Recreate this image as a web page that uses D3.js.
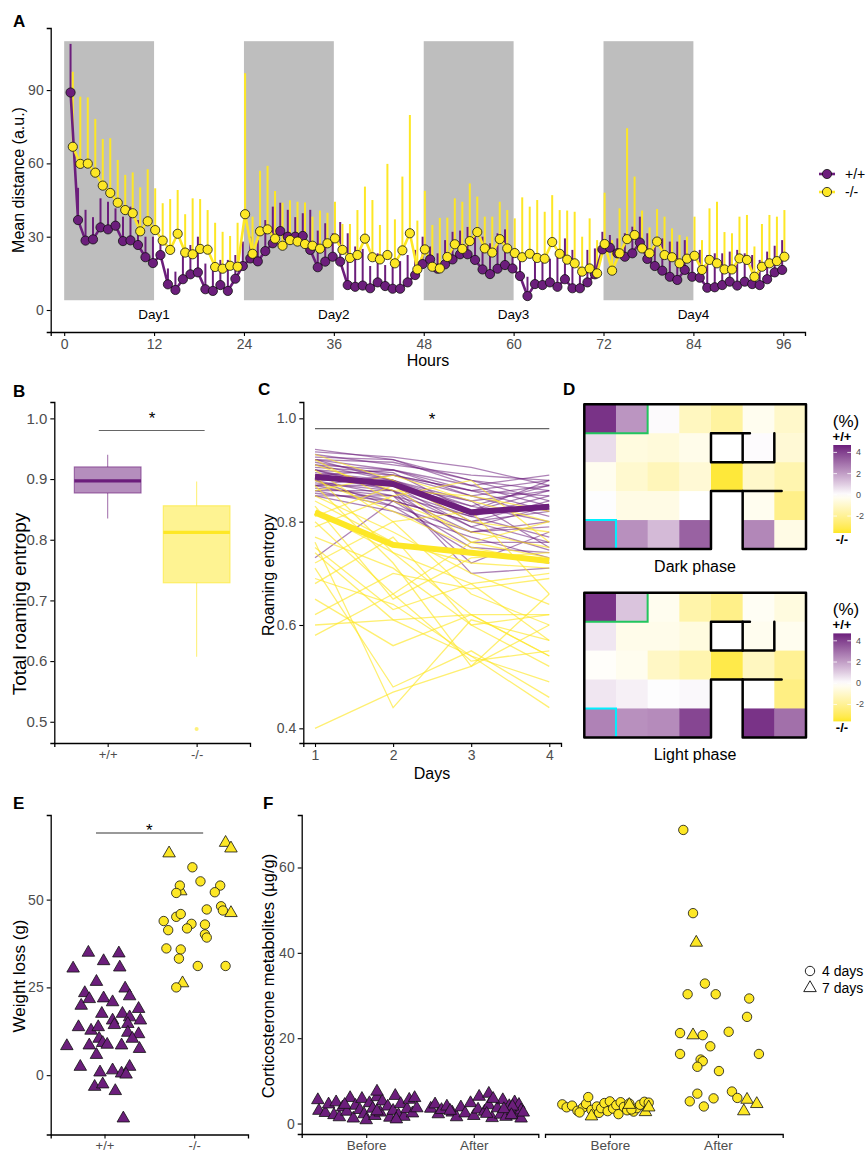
<!DOCTYPE html>
<html>
<head>
<meta charset="utf-8">
<script src="https://cdn.jsdelivr.net/npm/d3@7"></script>
<style>
  body { margin: 0; background: #fff; }
</style>
</head>
<body>
<svg id="fig" width="868" height="1154"></svg>
<script>
const FONT = "'Liberation Sans', Arial, sans-serif";
const PURPLE = "#6c1e7c", YELLOW = "#fde725";

// ---- A: mean distance per hour
const hours = d3.range(1, 97);
const darkStarts = [0, 24, 48, 72];
const dayLabels = ["Day1", "Day2", "Day3", "Day4"];
const wtDist = [89,36.8,28.4,28.9,33.8,33,34.5,28.2,28.5,26.6,21.6,19.2,22.5,10.5,8.2,12.6,14.6,15.4,8.5,7.8,10.2,7.8,12.8,18,
  21.1,19.9,24.1,27.3,32.3,30,30,30.3,24.6,17.5,19.8,21.8,19.8,10.2,9.5,10,8.9,11.3,9.8,8.7,8.7,11.3,14.3,18.8,
  20.7,16.9,18.7,20.7,22.8,22.8,20.5,16.6,14.7,16.9,18.4,17,13.9,5.7,10.6,10.2,11.3,9.5,12.6,8.9,8.9,11.3,14.6,24.8,
  25.5,23.2,21.8,23.2,27.6,20.9,18,16.1,13.6,12.3,16.4,13.6,13.2,9.1,9.3,10.2,11.6,10,11.6,10.6,10.2,12.6,15.4,16.4];
const wtTop = [108.9,50,41,38,45.7,44.3,41.6,38.2,42.3,36.8,30,30,28,17,15.7,23.2,26.6,30,19,18.4,20.5,20.5,22.5,28,
  30,28.6,36.8,42.3,43.9,41,38,39.6,41,32.5,35.5,31.4,36,31.4,26,25,18,23.2,18.4,20.7,20,22.5,24.6,30,
  26,23.2,28.6,32,32.5,34,31.4,30,27.3,31.4,33,23.9,23.2,13.6,23.2,20.5,21,23.2,29.3,24.6,17.7,24.6,25.2,32,
  30.7,29.3,31.4,34.1,38.2,31.4,25.9,29.3,28,28,28.6,23.2,24.6,22.5,23.2,23.2,23.9,24.6,23.2,22.5,20.5,23.9,26.3,28.6];
const koDist = [66.8,59.8,59.9,56.2,50.9,47.9,43.9,40.9,39.6,32.2,36.3,32.7,28.4,24.6,31.2,23.5,22.8,25,24.7,17.6,16.9,18.1,17.7,39.2,
  23,32.2,33,29.2,26.3,28.6,28,27,26.3,25.1,27.3,29.3,24.6,21.3,22.5,29.2,21.6,20.7,22.5,19.1,24.4,31.4,16.6,24.8,
  17.7,17,21.7,26.9,25,28.2,31.9,25.2,23.5,29,25.2,23.3,21.6,23,21.3,21,27.8,23,20.6,19.1,15.7,17,15,27,
  16.1,23.2,29,30.7,25.2,23.2,28,22.5,21.6,19.1,21,22.2,16.4,20.5,19.1,16.6,16.6,21.1,20.5,13.6,17.7,19.1,20,21.8];
const koTop = [97.5,87.3,87,78.2,70,70.3,61.4,55.3,56.3,50.2,57.6,49.8,43.7,45.4,49.1,39.2,45.7,45.4,40.9,35.7,32,30.3,35.7,96.9,
  38.2,57,59,48.7,43.9,44.9,44.3,44,38.2,40.7,39.8,44.3,35.2,35.2,40.9,50.5,45,34.8,59.8,37.1,54.6,79.8,36.6,48.8,
  34.8,37.7,37.8,45.7,44.3,51.8,46.4,38.2,38.2,44.3,40.9,37.5,46.1,42.3,45,40.2,47,40.9,40.7,40.2,30,37.5,28.6,48,
  28.6,41.6,74.4,54.6,40.7,33.8,41.3,38.2,33.4,30.7,30,38.2,28.6,41.6,44.3,31.9,31.4,38.2,38.9,26,35.2,38.9,38.2,40.9];
const genotypes = ["+/+", "-/-"];

// ---- B: total roaming entropy box stats [min, q1, median, q3, max]
const roamBox = [[0.835, 0.877, 0.897, 0.92, 0.94], [0.607, 0.729, 0.812, 0.856, 0.896]];
const roamOutliers = [[], [0.488]];

// ---- C: roaming entropy per day
const days = [1, 2, 3, 4];
const wtMean = [0.887, 0.873, 0.818, 0.829];
const koMean = [0.818, 0.755, 0.74, 0.724];
const wtLines = [
  [0.94,0.92,0.88,0.86],[0.935,0.925,0.905,0.87],[0.93,0.91,0.89,0.88],[0.925,0.92,0.87,0.89],
  [0.92,0.90,0.86,0.85],[0.92,0.915,0.88,0.84],[0.915,0.89,0.85,0.87],[0.91,0.90,0.87,0.83],
  [0.91,0.88,0.84,0.86],[0.905,0.895,0.82,0.88],[0.90,0.87,0.83,0.80],[0.90,0.89,0.86,0.82],
  [0.895,0.88,0.80,0.84],[0.89,0.86,0.81,0.85],[0.89,0.90,0.85,0.81],[0.885,0.87,0.79,0.83],
  [0.88,0.85,0.78,0.79],[0.88,0.88,0.82,0.86],[0.875,0.86,0.76,0.76],[0.87,0.84,0.80,0.82],
  [0.87,0.87,0.84,0.75],[0.865,0.85,0.72,0.78],[0.86,0.83,0.78,0.80],[0.86,0.86,0.70,0.71],
  [0.855,0.84,0.75,0.74],[0.85,0.82,0.77,0.73],[0.85,0.85,0.81,0.77],[0.88,0.83,0.74,0.72],
  [0.90,0.86,0.79,0.745],[0.73,0.84,0.80,0.76],[0.92,0.88,0.83,0.87],[0.87,0.89,0.86,0.88]];
const koLines = [
  [0.40,0.47,0.52,0.60],[0.58,0.66,0.76,0.80],[0.60,0.61,0.62,0.62],[0.65,0.56,0.62,0.54],
  [0.69,0.64,0.54,0.44],[0.71,0.48,0.55,0.46],[0.74,0.61,0.54,0.49],[0.76,0.44,0.61,0.57],
  [0.77,0.71,0.60,0.52],[0.80,0.66,0.53,0.55],[0.82,0.74,0.68,0.70],[0.85,0.78,0.70,0.64],
  [0.87,0.72,0.52,0.66],[0.88,0.82,0.75,0.72],[0.90,0.80,0.66,0.60],[0.92,0.84,0.78,0.75],
  [0.93,0.88,0.80,0.78],[0.91,0.86,0.85,0.82],[0.86,0.89,0.84,0.80],[0.84,0.76,0.72,0.71],
  [0.79,0.85,0.88,0.76],[0.83,0.65,0.73,0.74],[0.75,0.63,0.68,0.57],[0.68,0.77,0.60,0.62],
  [0.62,0.70,0.67,0.69],[0.89,0.74,0.62,0.54],[0.81,0.87,0.76,0.73],[0.72,0.80,0.82,0.66]];

// ---- D: occupancy difference (%) per cage cell, null = outside arena
const darkPhase = [
  [4.3, 2.2, 0.1, -1.2, -1.8, -0.3, -1.0],
  [0.7, -0.6, -0.7, -0.4, 0, 0.08, -0.8],
  [-0.3, -0.9, -1.3, -0.8, -3.4, -1.0, -1.5],
  [0.05, -0.5, -0.5, 0, null, -0.3, -2.2],
  [3.0, 2.3, 1.4, 3.3, null, 2.5, -0.5]];
const lightPhase = [
  [4.3, 1.2, -0.3, -1.6, -2.2, -0.2, -0.6],
  [0.5, -0.4, -0.4, -0.6, 0, -0.3, -0.3],
  [-0.1, -0.3, -1.1, -1.5, -3.2, -1.2, -2.0],
  [0.5, 0.3, 0.05, 0.15, null, 0, -2.3],
  [2.6, 2.3, 2.4, 3.9, null, 4.3, 3.0]];
const barTicks = [4, 2, 0, -2];

// ---- E: weight loss [value, jitter] (+ shape for -/-)
const lossWT = [[34.9,-0.18],[34.7,0.16],[30.4,-0.35],[32.5,-0.01],[30.7,0.17],[26.6,-0.09],[23.4,-0.22],[24.7,0.23],
  [19.8,-0.26],[21.7,-0.17],[21.9,-0.01],[20.8,0.09],[22.5,0.28],[18.9,0.38],[17.5,-0.03],[17.5,0.2],[16.5,0.28],
  [13.7,-0.29],[12.7,-0.15],[13.7,-0.07],[15.6,0.09],[14.3,0.11],[14.6,0.26],[15.6,0.4],[12.1,0.26],[11.7,0.38],
  [10.4,-0.06],[9.2,-0.02],[8.7,0.03],[10.4,0.31],[8.3,-0.42],[8.5,-0.17],[8.5,0.19],[7.5,0.39],[5.8,-0.09],
  [2.4,-0.27],[0.8,-0.05],[1.4,0.09],[0.5,0.19],[2.4,0.28],[0.2,0.24],[-3.3,-0.11],[-2.6,-0.02],[-4.5,0.12],[-12.3,0.21]];
const lossKO = [[63.2,-0.28,"t"],[66.2,0.35,"t"],[64.6,0.41,"t"],[46.2,0.41,"t"],[26.2,-0.13,"t"],[52.4,-0.15,"t"],
  [59.2,-0.02,"c"],[55.2,0.07,"c"],[54,0.29,"c"],[54,-0.16,"c"],[51.9,-0.2,"c"],[52.1,0.23,"c"],[48.1,0.3,"c"],
  [47.2,0.14,"c"],[46.9,0.32,"c"],[43.9,-0.34,"c"],[45.1,-0.2,"c"],[45.9,-0.15,"c"],[41.3,-0.29,"c"],[43.1,-0.03,"c"],
  [41.8,-0.08,"c"],[42.9,0.12,"c"],[40.1,0.12,"c"],[39.2,0.14,"c"],[36.1,-0.31,"c"],[35.8,-0.15,"c"],[33.2,-0.17,"c"],
  [31.1,0.04,"c"],[31.1,0.35,"c"],[25,-0.2,"c"]];

// ---- F: corticosterone metabolites [value, jitter] (+ shape for -/-)
const phases = ["Before", "After"];
const cortWTBefore = [[5.5,-0.45],[3,-0.44],[2.5,-0.38],[4.5,-0.35],[2,-0.3],[5,-0.28],[1.5,-0.25],[3.8,-0.22],[2.8,-0.18],
  [6,-0.15],[1.2,-0.12],[4.2,-0.1],[3.2,-0.06],[5.8,-0.04],[2.2,-0.02],[0.8,0],[4.8,0.03],[3.5,0.06],[1.8,0.08],[6.2,0.1],
  [2.6,0.13],[5.2,0.15],[7.5,0.1],[4,0.2],[1.4,0.22],[3,0.25],[6.5,0.27],[2,0.3],[4.6,0.32],[1.6,0.35],[3.4,0.38],
  [5.6,0.4],[2.4,0.43],[6,0.45],[3.6,0.47],[1,0.28],[4.4,-0.2],[2.9,0.1]];
const cortWTAfter = [[3.5,-0.4],[4.5,-0.36],[2.2,-0.33],[3.2,-0.3],[4,-0.25],[2.6,-0.2],[1.5,-0.16],[3.8,-0.12],[2.4,-0.08],
  [4.8,-0.03],[1.8,0],[3.3,0.04],[6.3,0.05],[2.8,0.1],[4.3,0.14],[1.3,0.17],[7,0.14],[3.6,0.22],[2.1,0.25],[5.5,0.27],
  [1.6,0.3],[4.1,0.33],[2.9,0.36],[5,0.38],[1.9,0.4],[4.4,0.42],[3.1,0.44],[1.2,0.44],[2.6,0.46],[4,0.36],[3.4,0.28],
  [2.3,0.12],[3,-0.22],[5.8,0.18],[2,0.35]];
const cortKOBefore = [[4.5,-0.44,"c"],[3.8,-0.4,"c"],[4.2,-0.35,"c"],[3,-0.3,"c"],[3.7,-0.25,"c"],[4.6,-0.22,"c"],
  [6.2,-0.2,"c"],[3.2,-0.17,"c"],[4,-0.12,"c"],[2.5,-0.1,"c"],[3.6,-0.08,"c"],[4.8,-0.05,"c"],[2.9,-0.02,"c"],
  [5.2,0,"c"],[3.5,0.03,"c"],[4.3,0.06,"c"],[2.2,0.08,"c"],[5,0.1,"c"],[3.9,0.13,"c"],[3.1,0.16,"c"],[4.7,0.18,"c"],
  [2.8,0.22,"c"],[3.6,0.25,"c"],[4.4,0.28,"c"],[5.1,0.32,"c"],[3.3,0.2,"c"],[4.9,0.36,"c"],[2.6,-0.28,"c"],
  [1.7,-0.17,"t"],[4.4,0.18,"t"],[2.7,0.33,"t"],[3.8,0.36,"t"]];
const cortKOAfter = [[68.8,-0.32,"c"],[49.3,-0.23,"c"],[42.4,-0.2,"t"],[32.8,-0.12,"c"],[30.3,-0.28,"c"],[30.3,-0.02,"c"],
  [29.3,0.29,"c"],[25,0.27,"c"],[21.2,-0.35,"c"],[20.7,-0.23,"t"],[20.7,-0.14,"c"],[21.5,0.1,"c"],[18.1,-0.07,"c"],
  [16.3,-0.35,"c"],[16.3,0.38,"c"],[15,-0.16,"c"],[14.6,-0.14,"c"],[13.3,-0.19,"c"],[12.3,0.01,"c"],[7.5,0.13,"c"],
  [6,0.18,"c"],[5.6,0.27,"t"],[4.6,0.36,"t"],[2.9,0.24,"t"],[7,-0.19,"c"],[5.2,-0.26,"c"],[5.9,-0.04,"c"],[4,-0.13,"c"]];
const durations = ["4 days", "7 days"];

const svg = d3.select("#fig");

function styleAxis(g, fs) {
  g.attr("font-family", FONT).attr("font-size", fs);
  g.select(".domain").attr("stroke", "#000").attr("stroke-width", 1.3);
  g.selectAll(".tick line").attr("stroke", "#000").attr("stroke-width", 1.1);
  g.selectAll(".tick text").attr("fill", "#4d4d4d");
}
function label(x, y, txt, size, opts = {}) {
  const t = svg.append("text").attr("x", x).attr("y", y).text(txt)
    .attr("font-family", FONT).attr("font-size", size)
    .attr("text-anchor", opts.anchor || "middle")
    .attr("fill", opts.fill || "#000");
  if (opts.bold) t.attr("font-weight", "bold");
  if (opts.rotate) t.attr("transform", "rotate(-90," + x + "," + y + ")");
  return t;
}
const tri = d3.symbol(d3.symbolTriangle, 68);

// panel letters
[["A", 13, 27], ["B", 13, 397], ["C", 258, 395], ["D", 563, 395], ["E", 13, 809], ["F", 263, 809]]
  .forEach(d => label(d[1], d[2], d[0], 17, {anchor: "start", bold: true}));

// #A
{
  const x = d3.scaleLinear().domain([-1.8, 98.9]).range([50.7, 805]);
  const y = d3.scaleLinear().domain([-9, 115.4]).range([332, 28]);
  const g = svg.append("g");
  g.selectAll("rect").data(darkStarts).join("rect")
    .attr("x", d => x(d)).attr("width", d => x(d + 12) - x(d))
    .attr("y", y(110)).attr("height", y(4) - y(110)).attr("fill", "#bebebe");
  g.selectAll("text.day").data(dayLabels).join("text").attr("class", "day")
    .attr("x", (d, i) => x(darkStarts[i] + 12)).attr("y", y(-1.5) + 5)
    .attr("text-anchor", "middle").attr("font-family", FONT).attr("font-size", 13.5)
    .text(d => d);
  const series = [
    {vals: wtDist, top: wtTop, c: PURPLE, dx: -0.15},
    {vals: koDist, top: koTop, c: YELLOW, dx: 0.15}];
  series.forEach(s => {
    g.append("g").selectAll("line").data(hours).join("line")
      .attr("x1", (h) => x(h + s.dx)).attr("x2", (h) => x(h + s.dx))
      .attr("y1", (h, i) => y(s.vals[i])).attr("y2", (h, i) => y(s.top[i]))
      .attr("stroke", s.c).attr("stroke-width", 2);
  });
  series.forEach(s => {
    g.append("path").datum(hours)
      .attr("d", d3.line().x(h => x(h + s.dx)).y((h, i) => y(s.vals[i])))
      .attr("fill", "none").attr("stroke", s.c).attr("stroke-width", 2.6);
  });
  series.forEach(s => {
    g.append("g").selectAll("circle").data(hours).join("circle")
      .attr("cx", h => x(h + s.dx)).attr("cy", (h, i) => y(s.vals[i])).attr("r", 4.6)
      .attr("fill", s.c).attr("stroke", "#111").attr("stroke-width", 0.8);
  });
  g.append("g").attr("transform", "translate(0,332)")
    .call(d3.axisBottom(x).tickValues([0, 12, 24, 36, 48, 60, 72, 84, 96]).tickSizeOuter(0).tickSize(4).tickPadding(3))
    .call(a => styleAxis(a, 14));
  g.append("g").attr("transform", "translate(50.7,0)")
    .call(d3.axisLeft(y).tickValues([0, 30, 60, 90]).tickSizeOuter(0).tickSize(4).tickPadding(3))
    .call(a => styleAxis(a, 14));
  label(428, 366, "Hours", 16);
  label(24, 180, "Mean distance (a.u.)", 16, {rotate: true});
  // legend
  [PURPLE, YELLOW].forEach((c, i) => {
    const ly = 174 + i * 18;
    g.append("line").attr("x1", 819).attr("x2", 835).attr("y1", ly).attr("y2", ly)
      .attr("stroke", c).attr("stroke-width", 2.6);
    g.append("circle").attr("cx", 827).attr("cy", ly).attr("r", 4.6)
      .attr("fill", c).attr("stroke", "#111").attr("stroke-width", 0.8);
    label(845, ly + 5, genotypes[i], 14, {anchor: "start"});
  });
}

// #B
{
  const x = d3.scaleLinear().domain([0.4, 2.6]).range([54.3, 250]);
  const y = d3.scaleLinear().domain([0.465, 1.027]).range([743, 402]);
  const g = svg.append("g");
  const cols = [PURPLE, YELLOW];
  roamBox.forEach((b, i) => {
    const cx = x(i + 1), c = cols[i];
    [[b[0], b[1]], [b[3], b[4]]].forEach(w =>
      g.append("line").attr("x1", cx).attr("x2", cx).attr("y1", y(w[0])).attr("y2", y(w[1]))
        .attr("stroke", c).attr("stroke-opacity", 0.6).attr("stroke-width", 1.1));
    g.append("rect").attr("x", x(i + 1 - 0.375)).attr("width", x(i + 1.375) - x(i + 1 - 0.375))
      .attr("y", y(b[3])).attr("height", y(b[1]) - y(b[3]))
      .attr("fill", c).attr("fill-opacity", 0.5).attr("stroke", c).attr("stroke-opacity", 0.6).attr("stroke-width", 1.1);
    g.append("line").attr("x1", x(i + 1 - 0.375)).attr("x2", x(i + 1.375)).attr("y1", y(b[2])).attr("y2", y(b[2]))
      .attr("stroke", c).attr("stroke-width", 3.2);
    roamOutliers[i].forEach(v => g.append("circle").attr("cx", cx).attr("cy", y(v)).attr("r", 2)
      .attr("fill", c).attr("fill-opacity", 0.6));
  });
  g.append("line").attr("x1", x(0.9)).attr("x2", x(2.09)).attr("y1", y(0.98)).attr("y2", y(0.98))
    .attr("stroke", "#666").attr("stroke-width", 1.2);
  label(x(1.5), 424, "*", 17);
  g.append("g").attr("transform", "translate(0,743)")
    .call(d3.axisBottom(x).tickValues([1, 2]).tickFormat((d, i) => genotypes[i]).tickSizeOuter(0).tickSize(4).tickPadding(3))
    .call(a => styleAxis(a, 13));
  g.append("g").attr("transform", "translate(54.3,0)")
    .call(d3.axisLeft(y).tickValues([0.5, 0.6, 0.7, 0.8, 0.9, 1.0]).tickFormat(d3.format(".1f")).tickSizeOuter(0).tickSize(4).tickPadding(3))
    .call(a => styleAxis(a, 15));
  label(26, 604, "Total roaming entropy", 19, {rotate: true});
}

// #C
{
  const x = d3.scaleLinear().domain([0.85, 4.15]).range([303.3, 561]);
  const y = d3.scaleLinear().domain([0.3716, 1.0316]).range([743, 402]);
  const g = svg.append("g");
  const line = d3.line().x((v, i) => x(days[i])).y(v => y(v));
  g.append("g").selectAll("path").data(wtLines).join("path").attr("d", line)
    .attr("fill", "none").attr("stroke", PURPLE).attr("stroke-opacity", 0.55).attr("stroke-width", 1.3);
  g.append("g").selectAll("path").data(koLines).join("path").attr("d", line)
    .attr("fill", "none").attr("stroke", YELLOW).attr("stroke-opacity", 0.65).attr("stroke-width", 1.3);
  g.append("path").datum(wtMean).attr("d", line).attr("fill", "none").attr("stroke", PURPLE).attr("stroke-width", 6);
  g.append("path").datum(koMean).attr("d", line).attr("fill", "none").attr("stroke", YELLOW).attr("stroke-width", 6);
  g.append("line").attr("x1", x(1)).attr("x2", x(4)).attr("y1", y(0.98)).attr("y2", y(0.98))
    .attr("stroke", "#666").attr("stroke-width", 1.2);
  label(x(2.5), 425, "*", 17);
  g.append("g").attr("transform", "translate(0,743)")
    .call(d3.axisBottom(x).tickValues(days).tickFormat(d3.format("d")).tickSizeOuter(0).tickSize(4).tickPadding(3))
    .call(a => styleAxis(a, 14));
  g.append("g").attr("transform", "translate(303.3,0)")
    .call(d3.axisLeft(y).tickValues([0.4, 0.6, 0.8, 1.0]).tickFormat(d3.format(".1f")).tickSizeOuter(0).tickSize(4).tickPadding(3))
    .call(a => styleAxis(a, 14));
  label(432, 779, "Days", 16);
  label(274, 575, "Roaming entropy", 16, {rotate: true});
}

// #D
{
  const color = d3.scaleLinear().domain([-3.6, 0, 4.7]).range([YELLOW, "#ffffff", PURPLE]).interpolate(d3.interpolateLab);
  const defs = svg.append("defs");
  const grad = defs.append("linearGradient").attr("id", "cbar").attr("x1", 0).attr("x2", 0).attr("y1", 0).attr("y2", 1);
  d3.range(0, 1.0001, 0.05).forEach(t => grad.append("stop").attr("offset", t).attr("stop-color", color(4.7 - t * 8.3)));
  const x = d3.scaleLinear().domain([0, 7]).range([584.3, 806]);
  [[darkPhase, 404.3, "Dark phase"], [lightPhase, 592.7, "Light phase"]].forEach(([grid, top, name]) => {
    const y = d3.scaleLinear().domain([0, 5]).range([top, top + 144.7]);
    const g = svg.append("g");
    const cells = [];
    grid.forEach((row, r) => row.forEach((v, c) => { if (v !== null) cells.push({r, c, v}); }));
    g.selectAll("rect").data(cells).join("rect")
      .attr("x", d => x(d.c)).attr("y", d => y(d.r))
      .attr("width", x(1) - x(0) + 0.5).attr("height", y(1) - y(0) + 0.5)
      .attr("fill", d => color(d.v));
    const p = (pts) => d3.line().x(d => x(d[0])).y(d => y(d[1]))(pts);
    const walls = [
      [[0, 0], [7, 0], [7, 5], [5, 5], [5, 3], [4, 3], [4, 5], [0, 5], [0, 0]],
      [[5, 3], [6.23, 3]],
      [[5.23, 1], [4, 1], [4, 2], [6, 2], [6, 1]],
      [[5, 1], [5, 2]]];
    g.append("path").attr("d", p([[0, 1], [2, 1], [2, 0]])).attr("fill", "none").attr("stroke", "#22c55e").attr("stroke-width", 2);
    g.append("path").attr("d", p([[0, 4], [1, 4], [1, 5]])).attr("fill", "none").attr("stroke", "#00f0ff").attr("stroke-width", 2);
    walls.forEach(w => g.append("path").attr("d", p(w)).attr("fill", "none").attr("stroke", "#000")
      .attr("stroke-width", 2.5).attr("stroke-linejoin", "round").attr("stroke-linecap", "round"));
    label(695, top + 167.5, name, 16);
    // colour bar
    const bt = top + 40.7;
    const cy = d3.scaleLinear().domain([4.7, -3.6]).range([bt, bt + 88]);
    g.append("rect").attr("x", 833.3).attr("y", bt).attr("width", 17.7).attr("height", 88).attr("fill", "url(#cbar)");
    barTicks.forEach(v => {
      g.append("line").attr("x1", 833.3).attr("x2", 837).attr("y1", cy(v)).attr("y2", cy(v)).attr("stroke", "#fff").attr("stroke-width", 0.8);
      g.append("line").attr("x1", 847.3).attr("x2", 851).attr("y1", cy(v)).attr("y2", cy(v)).attr("stroke", "#fff").attr("stroke-width", 0.8);
      label(856, cy(v) + 3, v, 9, {anchor: "start", fill: "#4d4d4d"});
    });
    label(846, bt - 18, "(%)", 17);
    label(842, bt - 4, genotypes[0], 13, {bold: true});
    label(842, bt + 99, genotypes[1], 13, {bold: true});
  });
}

// #E
{
  const x = d3.scaleLinear().domain([0.4, 2.6]).range([50.7, 248]);
  const y = d3.scaleLinear().domain([-16.9, 74.1]).range([1134.5, 815]);
  const g = svg.append("g");
  g.append("line").attr("x1", x(0.905)).attr("x2", x(2.1)).attr("y1", y(69)).attr("y2", y(69))
    .attr("stroke", "#999").attr("stroke-width", 2);
  label(x(1.5), 836, "*", 17);
  g.append("g").selectAll("path").data(lossWT).join("path")
    .attr("d", tri).attr("transform", d => "translate(" + x(1 + d[1]) + "," + y(d[0]) + ")")
    .attr("fill", PURPLE).attr("stroke", "#111").attr("stroke-width", 0.8);
  lossKO.forEach(d => {
    const el = d[2] === "t"
      ? g.append("path").attr("d", tri).attr("transform", "translate(" + x(2 + d[1]) + "," + y(d[0]) + ")")
      : g.append("circle").attr("cx", x(2 + d[1])).attr("cy", y(d[0])).attr("r", 4.7);
    el.attr("fill", YELLOW).attr("stroke", "#111").attr("stroke-width", 0.8);
  });
  g.append("g").attr("transform", "translate(0,1134.5)")
    .call(d3.axisBottom(x).tickValues([1, 2]).tickFormat((d, i) => genotypes[i]).tickSizeOuter(0).tickSize(4).tickPadding(2))
    .call(a => styleAxis(a, 13));
  g.append("g").attr("transform", "translate(50.7,0)")
    .call(d3.axisLeft(y).tickValues([0, 25, 50]).tickSizeOuter(0).tickSize(4).tickPadding(3))
    .call(a => styleAxis(a, 14));
  label(25, 976, "Weight loss (g)", 17, {rotate: true});
}

// #F
{
  const y = d3.scaleLinear().domain([-2.45, 72.3]).range([1134, 815]);
  const facets = [
    {x: d3.scaleLinear().domain([0.4, 2.6]).range([301.7, 538.3]), groups: [cortWTBefore, cortWTAfter], c: PURPLE},
    {x: d3.scaleLinear().domain([0.4, 2.6]).range([545, 782.7]), groups: [cortKOBefore, cortKOAfter], c: YELLOW}];
  const g = svg.append("g");
  facets.forEach(f => {
    f.groups.forEach((pts, gi) => pts.forEach(d => {
      const px = f.x(gi + 1 + d[1]), py = y(d[0]);
      const el = d[2] === "c"
        ? g.append("circle").attr("cx", px).attr("cy", py).attr("r", 4.7)
        : g.append("path").attr("d", tri).attr("transform", "translate(" + px + "," + py + ")");
      el.attr("fill", f.c).attr("stroke", "#111").attr("stroke-width", 0.8);
    }));
    g.append("g").attr("transform", "translate(0,1134)")
      .call(d3.axisBottom(f.x).tickValues([1, 2]).tickFormat((d, i) => phases[i]).tickSizeOuter(0).tickSize(4).tickPadding(2))
      .call(a => styleAxis(a, 13.5));
  });
  g.append("g").attr("transform", "translate(301.7,0)")
    .call(d3.axisLeft(y).tickValues([0, 20, 40, 60]).tickSizeOuter(0).tickSize(4).tickPadding(3))
    .call(a => styleAxis(a, 14));
  label(274, 976, "Corticosterone metabolites (µg/g)", 16.5, {rotate: true});
  // shape legend
  g.append("circle").attr("cx", 810).attr("cy", 971).attr("r", 4.7).attr("fill", "none").attr("stroke", "#222").attr("stroke-width", 1);
  g.append("path").attr("d", tri).attr("transform", "translate(810,988)").attr("fill", "none").attr("stroke", "#222").attr("stroke-width", 1);
  durations.forEach((t, i) => label(822, 976 + i * 17, t, 14, {anchor: "start"}));
}
</script>
</body>
</html>
